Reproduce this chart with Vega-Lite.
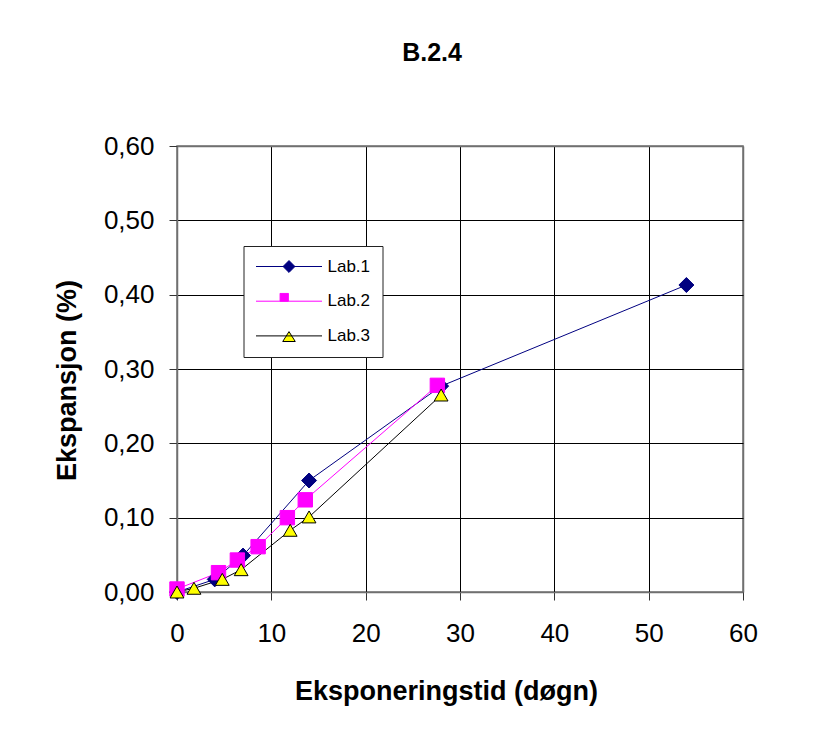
{
  "$schema": "https://vega.github.io/schema/vega-lite/v6.json",
  "autosize": {"type": "none"},
  "width": 566,
  "height": 446,
  "padding": {"left": 177, "top": 146, "right": 89, "bottom": 145},
  "background": "white",
  "title": {
    "text": "B.2.4",
    "font": "Liberation Sans",
    "fontSize": 25,
    "fontWeight": "bold",
    "color": "black",
    "anchor": "middle",
    "baseline": "alphabetic",
    "dx": -28,
    "offset": 47
  },
  "data": {
    "values": [
      {"lab": "Lab.1", "x": 0, "y": 0.0},
      {"lab": "Lab.1", "x": 4, "y": 0.017},
      {"lab": "Lab.1", "x": 7, "y": 0.049},
      {"lab": "Lab.1", "x": 14, "y": 0.150},
      {"lab": "Lab.1", "x": 28, "y": 0.277},
      {"lab": "Lab.1", "x": 54, "y": 0.413},
      {"lab": "Lab.2", "x": 0, "y": 0.004},
      {"lab": "Lab.2", "x": 4.4, "y": 0.026},
      {"lab": "Lab.2", "x": 6.4, "y": 0.043},
      {"lab": "Lab.2", "x": 8.6, "y": 0.061},
      {"lab": "Lab.2", "x": 11.7, "y": 0.100},
      {"lab": "Lab.2", "x": 13.6, "y": 0.124},
      {"lab": "Lab.2", "x": 27.6, "y": 0.278},
      {"lab": "Lab.3", "x": 0, "y": 0.0},
      {"lab": "Lab.3", "x": 1.8, "y": 0.005},
      {"lab": "Lab.3", "x": 4.8, "y": 0.017},
      {"lab": "Lab.3", "x": 6.8, "y": 0.030},
      {"lab": "Lab.3", "x": 12, "y": 0.083},
      {"lab": "Lab.3", "x": 14, "y": 0.101},
      {"lab": "Lab.3", "x": 28, "y": 0.265}
    ]
  },
  "encoding": {
    "x": {
      "field": "x",
      "type": "quantitative",
      "scale": {"domain": [0, 60], "nice": false, "zero": false},
      "axis": {
        "values": [0, 10, 20, 30, 40, 50, 60],
        "title": "Eksponeringstid (døgn)",
        "titleX": 269,
        "titleY": 107,
        "titleAlign": "center",
        "titleBaseline": "alphabetic",
        "labelPadding": 20,
        "gridColor": {"condition": {"test": "datum.value >= 59", "value": "#707070"}, "value": "black"},
        "gridWidth": {"condition": {"test": "datum.value >= 59", "value": 1.5}, "value": 1}
      }
    },
    "y": {
      "field": "y",
      "type": "quantitative",
      "scale": {"domain": [0, 0.6], "nice": false, "zero": false},
      "axis": {
        "values": [0, 0.1, 0.2, 0.3, 0.4, 0.5, 0.6],
        "labelExpr": "replace(format(datum.value, '.2f'), '.', ',')",
        "title": "Ekspansjon (%)",
        "titleX": -102,
        "titleY": 234,
        "titleAngle": -90,
        "titleAlign": "center",
        "titleBaseline": "alphabetic",
        "labelPadding": 15,
        "gridColor": {"condition": {"test": "datum.value >= 0.59", "value": "#707070"}, "value": "black"},
        "gridWidth": {"condition": {"test": "datum.value >= 0.59", "value": 1.5}, "value": 1}
      }
    }
  },
  "layer": [
    {
      "mark": {"type": "line", "strokeWidth": 1},
      "encoding": {
        "color": {
          "field": "lab",
          "type": "nominal",
          "scale": {"range": ["#000080", "#FF00FF", "#000000"]},
          "legend": null
        }
      }
    },
    {
      "mark": {"type": "point", "filled": true, "opacity": 1, "strokeWidth": 1},
      "encoding": {
        "shape": {
          "field": "lab",
          "type": "nominal",
          "scale": {"domain": ["Lab.1", "Lab.2", "Lab.3"], "range": ["diamond", "square", "triangle-up"]},
          "legend": null
        },
        "fill": {
          "field": "lab",
          "type": "nominal",
          "scale": {"domain": ["Lab.1", "Lab.2", "Lab.3"], "range": ["#000080", "#FF00FF", "#FFFF00"]},
          "legend": null
        },
        "stroke": {
          "field": "lab",
          "type": "nominal",
          "scale": {"domain": ["Lab.1", "Lab.2", "Lab.3"], "range": ["#000080", "#FF00FF", "#000000"]},
          "legend": null
        },
        "size": {
          "field": "lab",
          "type": "nominal",
          "scale": {"range": [225, 190, 290]},
          "legend": null
        }
      }
    },
    {
      "transform": [{"filter": "false"}],
      "mark": {"type": "point", "filled": true, "opacity": 1, "strokeWidth": 1},
      "encoding": {
        "shape": {
          "field": "lab",
          "type": "nominal",
          "scale": {
            "domain": ["Lab.1", "Lab.2", "Lab.3"],
            "range": [
              "M-1,0H1M0,-0.18L0.18,0L0,0.18L-0.18,0Z",
              "M-1,0H1M-0.27,-0.24H-0.02V0H-0.27Z",
              "M-1,0H1M0,-0.13L0.19,0.17L-0.19,0.17Z"
            ]
          },
          "legend": {
            "title": null,
            "orient": "none",
            "legendX": 66.5,
            "legendY": 100,
            "padding": 12,
            "fillColor": "white",
            "strokeColor": "#222222",
            "symbolSize": 4356,
            "symbolStrokeWidth": 1,
            "symbolOffset": 0,
            "labelOffset": 5,
            "labelFont": "Liberation Sans",
            "labelFontSize": 17,
            "labelColor": "black",
            "clipHeight": 17,
            "rowPadding": 16.7,
            "encode": {
              "symbols": {
                "update": {
                  "size": {"value": 4356}
                }
              }
            }
          }
        },
        "fill": {
          "field": "lab",
          "type": "nominal",
          "scale": {"domain": ["Lab.1", "Lab.2", "Lab.3"], "range": ["#000080", "#FF00FF", "#FFFF00"]}
        },
        "stroke": {
          "field": "lab",
          "type": "nominal",
          "scale": {"domain": ["Lab.1", "Lab.2", "Lab.3"], "range": ["#000080", "#FF00FF", "#000000"]}
        }
      }
    }
  ],
  "resolve": {
    "scale": {"shape": "independent", "fill": "independent", "stroke": "independent"}
  },
  "config": {
    "font": "Liberation Sans",
    "view": {"stroke": "#707070", "strokeWidth": 1.5, "fill": "white"},
    "axis": {
      "labelFont": "Liberation Sans",
      "labelFontSize": 26,
      "labelColor": "black",
      "titleFont": "Liberation Sans",
      "titleFontSize": 27,
      "titleFontWeight": "bold",
      "titleColor": "black",
      "domainColor": "#707070",
      "domainWidth": 1.5,
      "tickColor": "#333333",
      "tickSize": 8,
      "tickWidth": 1,
      "grid": true,
      "labelOverlap": false,
      "labelFlush": false
    }
  }
}
